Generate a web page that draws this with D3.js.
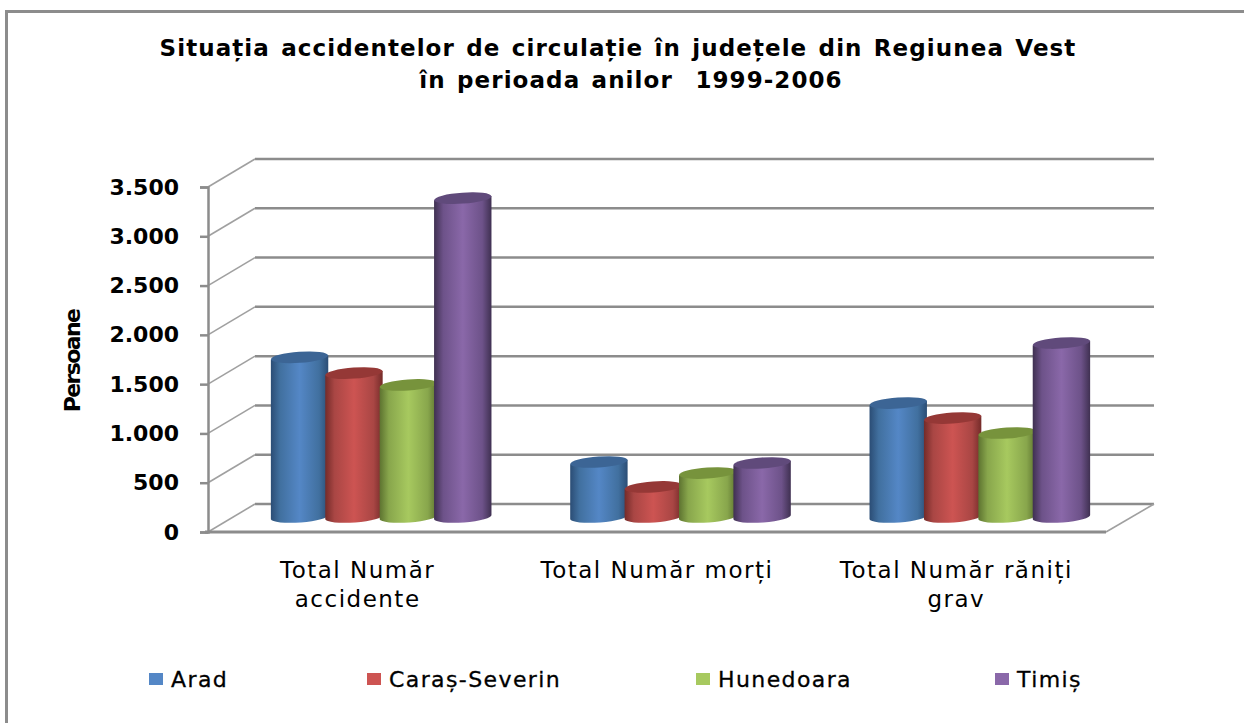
<!DOCTYPE html>
<html>
<head>
<meta charset="utf-8">
<script src="https://d3js.org/d3.v7.min.js"></script>
<style>
  html, body { margin: 0; padding: 0; background: #fff; }
  svg { display: block; }
  text { font-family: "DejaVu Sans", sans-serif; fill: #000; }
</style>
</head>
<body>
<div id="chart"></div>
<script>
// values
const titleLines = ["Situația accidentelor de circulație în județele din Regiunea Vest", "în perioada anilor  1999-2006"]
const categories = ["Total Număr accidente", "Total Număr morți", "Total Număr răniți grav"]
const categoryLines = [["Total Număr", "accidente"], ["Total Număr morți"], ["Total Număr răniți", "grav"]]
const seriesNames = ["Arad", "Caraș-Severin", "Hunedoara", "Timiș"]
const arad = [1630, 568, 1166]
const caras = [1470, 315, 1014]
const hunedoara = [1350, 456, 862]
const timis = [3245, 558, 1775]
const seriesValues = [arad, caras, hunedoara, timis]
const yTicks = [0, 500, 1000, 1500, 2000, 2500, 3000, 3500]

// edge, shoulder, middle, top cap
const seriesColours = [
    ["#2b4d75", "#41709f", "#5487c6", "#3c6595"],
    ["#742b29", "#a94644", "#cd5452", "#953836"],
    ["#5d7330", "#88a64c", "#a7c95f", "#77933c"],
    ["#3f3051", "#6d5289", "#8a68a9", "#604a7b"]
]
const legendX = [149, 367, 696, 995]
const titleX = [618, 631]

const width = 1244
const height = 723
const gridColour = "#8c8c8c"

// 3D box: front face and how far the back wall is shifted
const front = { left: 208, right: 1106, bottom: 532, top: 187 }
const depth = { x: 47, y: -28 }

const svg = d3.select("#chart").append("svg")
    .attr("width", width)
    .attr("height", height)

// only the top and left of the outer frame are visible
svg.append("path")
    .attr("d", "M6.5," + height + "V11.5H" + width)
    .attr("fill", "none")
    .attr("stroke", gridColour)
    .attr("stroke-width", 3)

svg.append("g").selectAll("text")
    .data(titleLines)
    .join("text")
    .attr("x", (d, i) => titleX[i])
    .attr("y", (d, i) => 56 + i * 32)
    .attr("text-anchor", "middle")
    .attr("font-weight", 700)
    .attr("font-size", 23)
    .style("letter-spacing", "1.08px")
    .style("word-spacing", "2.2px")
    .style("white-space", "pre")
    .text(d => d)

const y = d3.scaleLinear().domain([0, 3500]).range([front.bottom, front.top])
const x = d3.scaleBand().domain(categories).range([front.left, front.right])
const inner = d3.scaleBand().domain(seriesNames).range([-108.8, 108.8])

// back wall lines and the diagonals on the side wall
svg.append("g").selectAll("line")
    .data(yTicks)
    .join("line")
    .attr("x1", front.left + depth.x)
    .attr("x2", 1154)
    .attr("y1", d => y(d) + depth.y)
    .attr("y2", d => y(d) + depth.y)
    .attr("stroke", gridColour)
    .attr("stroke-width", 2.5)

svg.append("g").selectAll("line")
    .data(yTicks)
    .join("line")
    .attr("x1", front.left)
    .attr("x2", front.left + depth.x)
    .attr("y1", d => y(d))
    .attr("y2", d => y(d) + depth.y)
    .attr("stroke", "#a0a0a0")
    .attr("stroke-width", 1.6)

// floor edge on the right
svg.append("line")
    .attr("x1", front.right)
    .attr("x2", front.right + depth.x + 1)
    .attr("y1", y(0))
    .attr("y2", y(0) + depth.y)
    .attr("stroke", "#a0a0a0")
    .attr("stroke-width", 1.6)

// y axis
const fmt = d3.formatLocale({ decimal: ",", thousands: ".", grouping: [3], currency: ["", ""] }).format(",d")
const yAxis = svg.append("g")
    .attr("transform", "translate(" + front.left + ",0)")
    .call(d3.axisLeft(y).tickValues(yTicks).tickFormat(fmt).tickSize(8).tickPadding(21))
yAxis.select(".domain").attr("stroke", gridColour).attr("stroke-width", 2.5)
yAxis.selectAll(".tick line").attr("stroke", gridColour).attr("stroke-width", 2.5)
yAxis.selectAll("text")
    .attr("font-family", '"DejaVu Sans", sans-serif')
    .attr("font-size", 22)
    .attr("font-weight", 700)
    .attr("dy", "0.32em")

// x axis, labels are broken by hand
const xAxis = svg.append("g")
    .attr("transform", "translate(0," + front.bottom + ")")
    .call(d3.axisBottom(x).tickSize(0).tickFormat(""))
xAxis.select(".domain")
    .attr("d", "M" + (front.left - 3) + ",0H" + front.right)
    .attr("stroke", gridColour)
    .attr("stroke-width", 3)

const labels = svg.append("g").selectAll("text")
    .data(categories)
    .join("text")
    .attr("text-anchor", "middle")
    .attr("font-size", 23)
    .style("letter-spacing", "1.5px")
    .attr("y", 578)
labels.selectAll("tspan")
    .data((d, i) => categoryLines[i].map(line => ({ cat: d, line })))
    .join("tspan")
    .attr("x", d => x(d.cat) + x.bandwidth() / 2)
    .attr("dy", (d, i) => i ? 29 : 0)
    .text(d => d.line)

svg.append("text")
    .attr("transform", "translate(80,361) rotate(-90)")
    .attr("text-anchor", "middle")
    .attr("font-size", 22)
    .attr("font-weight", 700)
    .style("letter-spacing", "-1.6px")
    .text("Persoane")

// gradients for the cylinder bodies
const defs = svg.append("defs")
seriesNames.forEach((name, i) => {
    const c = seriesColours[i]
    const grad = defs.append("linearGradient").attr("id", "cyl" + i)
    const stops = [[0, c[0]], [0.16, c[1]], [0.5, c[2]], [0.84, c[1]], [1, c[0]]]
    stops.forEach(s => grad.append("stop").attr("offset", s[0]).attr("stop-color", s[1]))
})

// cylinders stand in the middle of the depth, later ones cover earlier ones
const barW = inner.bandwidth() + 3
const ry = 5.5
const tilt = 2.2
const baseY = y(0) + depth.y / 2 - 1

const cylinder = (cx, top) => {
    const l = cx - barW / 2
    const r = cx + barW / 2
    return "M" + l + "," + (top + tilt)
        + "L" + l + "," + (baseY + tilt)
        + "A" + barW / 2 + "," + ry + " -4 0 0 " + r + "," + (baseY - tilt)
        + "L" + r + "," + (top - tilt)
        + "Z"
}

categories.forEach((cat, c) => {
    const cx0 = x(cat) + x.bandwidth() / 2 + depth.x / 2
    seriesNames.forEach((name, s) => {
        const cx = cx0 + inner(name) + inner.bandwidth() / 2
        const top = y(seriesValues[s][c]) + depth.y / 2
        svg.append("path")
            .attr("d", cylinder(cx, top))
            .attr("fill", "url(#cyl" + s + ")")
        svg.append("ellipse")
            .attr("transform", "translate(" + cx + "," + top + ") rotate(-4)")
            .attr("rx", barW / 2)
            .attr("ry", ry)
            .attr("fill", seriesColours[s][3])
    })
})

// legend
const legend = svg.append("g").selectAll("g")
    .data(seriesNames)
    .join("g")
    .attr("transform", (d, i) => "translate(" + legendX[i] + ",673)")
legend.append("rect")
    .attr("width", 14)
    .attr("height", 12)
    .attr("fill", (d, i) => seriesColours[i][2])
legend.append("text")
    .attr("x", 22)
    .attr("y", 14)
    .attr("font-size", 22)
    .attr("stroke", "#000")
    .attr("stroke-width", 0.3)
    .style("letter-spacing", "1.4px")
    .text(d => d)
</script>
</body>
</html>
